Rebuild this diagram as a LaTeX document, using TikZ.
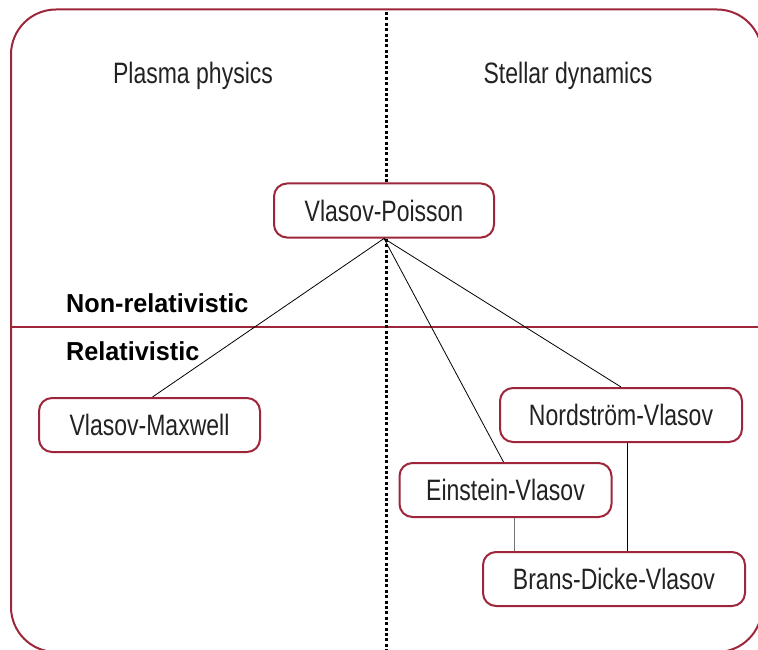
\documentclass[tikz,border=0pt]{standalone}
\usepackage{fontspec}
\setmainfont{Liberation Sans}[FakeStretch=0.78]
\newfontfamily\regimefont{Liberation Sans}[FakeStretch=0.97]
\usetikzlibrary{calc}
\usetikzlibrary{positioning}
\definecolor{framered}{RGB}{158,38,58}
\definecolor{inkgray}{RGB}{34,34,34}

\tikzset{
  eqbox/.style={draw=framered, line width=2pt, rounded corners=13pt, fill=white,
    text=inkgray, inner sep=0pt, minimum height=54pt, font=\fontsize{29.5}{34}\selectfont},
  link/.style={black, line width=0.8pt},
  region/.style={text=inkgray, font=\fontsize{29.5}{34}\selectfont},
  regime/.style={anchor=base west, text=black, inner sep=0pt, font=\regimefont\bfseries\fontsize{26}{30}\selectfont}
}

\begin{document}
\begin{tikzpicture}[x=1pt, y=-1pt]
\useasboundingbox (0,0) rectangle (758,650);
\clip (0,0) rectangle (758,650);
% frame and quadrants
\draw[framered, line width=2pt, rounded corners=45pt] (11,9.5) rectangle (762,652);
\draw[framered, line width=1.5pt] (11,327) -- (770,327);
\draw[black, line width=3pt, dash pattern=on 3pt off 2.4pt] (386,12) -- (386,650);
\node[region] (plasma) at (193,76) {Plasma physics};
\node[region] (stellar) at (568,76) {Stellar dynamics};
\node[regime] (nonrel) at (66,312) {Non-relativistic};
\node[regime] (rel) at (66,360) {Relativistic};
% models
\node[eqbox, minimum width=220pt] (vp) at (384,210.5) {Vlasov-Poisson};
\node[eqbox, minimum width=221pt] (vm) at (149.5,425) {Vlasov-Maxwell};
\node[eqbox, minimum width=242pt] (nv) at (621,415) {Nordström-Vlasov};
\node[eqbox, minimum width=212pt] (ev) at (505.5,490) {Einstein-Vlasov};
\node[eqbox, minimum width=262pt] (bdv) at (614,579) {Brans-Dicke-Vlasov};
\draw[link] (vp.south) -- ([xshift=3pt]vm.north);
\draw[link] (vp.south) -- ([xshift=-2pt]ev.north);
\draw[link] (vp.south) -- (nv.north);
\draw[link, black!55] ([xshift=8.5pt]ev.south) -- ([xshift=8.5pt]ev.south |- bdv.north);
\draw[link] ([xshift=6pt]nv.south) -- ([xshift=6pt]nv.south |- bdv.north);
\end{tikzpicture}
\end{document}
